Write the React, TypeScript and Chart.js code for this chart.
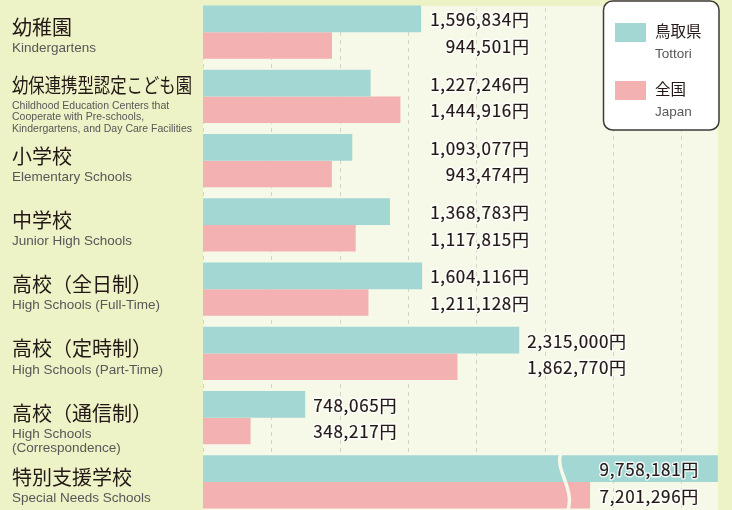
import React, { useEffect, useRef } from "react";
import { Chart, registerables } from "chart.js";

Chart.register(...registerables);

// ---------- data ----------
const categoriesJa = [
  "幼稚園",
  "幼保連携型認定こども園",
  "小学校",
  "中学校",
  "高校（全日制）",
  "高校（定時制）",
  "高校（通信制）",
  "特別支援学校",
];
const categoriesEn = [
  ["Kindergartens"],
  [
    "Childhood Education Centers that",
    "Cooperate with Pre-schools,",
    "Kindergartens, and Day Care Facilities",
  ],
  ["Elementary Schools"],
  ["Junior High Schools"],
  ["High Schools (Full-Time)"],
  ["High Schools (Part-Time)"],
  ["High Schools", "(Correspondence)"],
  ["Special Needs Schools"],
];
const tottoriValues = [1596834, 1227246, 1093077, 1368783, 1604116, 2315000, 748065, 9758181];
const japanValues = [944501, 1444916, 943474, 1117815, 1211128, 1862770, 348217, 7201296];
const seriesJa = ["鳥取県", "全国"];
const seriesEn = ["Tottori", "Japan"];
const unitSuffix = "円";

// axis: 0 .. axisMax with grid every gridStep, broken between breakStart and breakEnd
const gridStep = 500000;
const axisMax = 3770000;
const breakStart = 2650000;
const breakEnd = 6700000;
const breakScale = 0.366;
const labelColumnValue = 1604116;

// ---------- styles ----------
const PAGE_BG = "#edf2c7";
const PLOT_BG = "#f6f8e8";
const TEAL = "#a3d7d4";
const PINK = "#f4b1b2";
const TEXT_DARK = "#231815";
const TEXT_GRAY = "#595757";
const GRID = "#d3d4ca";
const W = 732;
const H = 514;
const PLOT_TOP = 6;

const toDisplay = (v: number) =>
  v <= breakStart ? v : breakStart + (v - breakEnd) * breakScale;

const fmt = (v: number) => v.toLocaleString("en-US") + unitSuffix;

const drawPlugin = {
  id: "customDraw",
  beforeDraw(chart: any) {
    const { ctx, chartArea: a } = chart;
    ctx.save();
    ctx.fillStyle = PAGE_BG;
    ctx.fillRect(0, 0, W, H);
    ctx.fillStyle = PLOT_BG;
    ctx.fillRect(a.left, PLOT_TOP, a.right - a.left, a.bottom - PLOT_TOP);
    ctx.restore();
  },
  beforeDatasetsDraw(chart: any) {
    const { ctx, chartArea: a } = chart;
    const xs = chart.scales.x;
    ctx.save();
    ctx.strokeStyle = GRID;
    ctx.lineWidth = 1;
    ctx.setLineDash([4, 4]);
    for (let v = 0; v < axisMax; v += gridStep) {
      const x = Math.round(xs.getPixelForValue(v)) + 0.5;
      ctx.beginPath();
      ctx.moveTo(x, PLOT_TOP + 2);
      ctx.lineTo(x, a.bottom);
      ctx.stroke();
    }
    ctx.restore();
  },
  afterDatasetsDraw(chart: any) {
    const { ctx, chartArea: a } = chart;
    const xs = chart.scales.x;
    const ys = chart.scales.y;
    const m0 = chart.getDatasetMeta(0).data;
    const m1 = chart.getDatasetMeta(1).data;
    const n = categoriesJa.length;

    // axis break wave on bars that exceed the break
    for (let i = 0; i < n; i++) {
      if (Math.max(tottoriValues[i], japanValues[i]) <= breakStart) continue;
      const x = xs.getPixelForValue(breakStart);
      const top = m0[i].y - m0[i].height / 2 - 3;
      const bot = m1[i].y + m1[i].height / 2 + 4;
      const h = bot - top;
      ctx.save();
      ctx.strokeStyle = PLOT_BG;
      ctx.lineWidth = 3.5;
      ctx.beginPath();
      ctx.moveTo(x - 3.5, top);
      ctx.bezierCurveTo(x - 12, top + h * 0.27, x + 12, top + h * 0.63, x + 2, bot);
      ctx.stroke();
      ctx.restore();
    }

    // value labels
    ctx.save();
    ctx.font = '17px "Noto Sans CJK JP"';
    (ctx as any).letterSpacing = "0.7px";
    ctx.textBaseline = "middle";
    ctx.textAlign = "right";
    ctx.lineJoin = "round";
    for (let i = 0; i < n; i++) {
      const t0 = fmt(tottoriValues[i]);
      const t1 = fmt(japanValues[i]);
      const gmax = Math.max(tottoriValues[i], japanValues[i]);
      let right: number;
      if (gmax > breakStart) {
        right = a.right - 19;
      } else {
        const anchorVal = gmax >= 1000000 ? Math.max(gmax, labelColumnValue) : gmax;
        const wmax = Math.max(ctx.measureText(t0).width, ctx.measureText(t1).width);
        right = xs.getPixelForValue(anchorVal) + 8 + wmax;
      }
      [
        [t0, m0[i].y + 1],
        [t1, m1[i].y + 1],
      ].forEach(([t, y]: any) => {
        ctx.strokeStyle = "rgba(255,255,255,0.85)";
        ctx.lineWidth = 3;
        ctx.strokeText(t, right, y);
        ctx.fillStyle = TEXT_DARK;
        ctx.fillText(t, right, y);
        ctx.strokeStyle = TEXT_DARK;
        ctx.lineWidth = 0.2;
        ctx.strokeText(t, right, y);
      });
    }
    ctx.restore();

    // category labels
    ctx.save();
    ctx.textAlign = "left";
    ctx.textBaseline = "middle";
    for (let i = 0; i < n; i++) {
      const c = ys.getPixelForValue(i);
      const en = categoriesEn[i];
      const compact = en.length >= 3;
      ctx.fillStyle = TEXT_DARK;
      ctx.font = '20px "Noto Sans CJK JP"';
      const ty = compact ? c - 11 : c - 4.5;
      ctx.fillText(categoriesJa[i], 12, ty, 180);
      ctx.fillStyle = TEXT_GRAY;
      if (compact) {
        ctx.font = '11px "Liberation Sans", Arial, sans-serif';
        const widest = Math.max(...en.map((s) => ctx.measureText(s).width));
        const sx = Math.min(1, 180 / widest);
        en.forEach((s, k) => {
          ctx.save();
          ctx.translate(12, c + 9.5 + k * 11.5);
          ctx.scale(sx, 1);
          ctx.fillText(s, 0, 0);
          ctx.restore();
        });
      } else {
        ctx.font = '13.5px "Liberation Sans", Arial, sans-serif';
        en.forEach((s, k) => {
          ctx.fillText(s, 12, c + 16.5 + k * 14);
        });
      }
    }
    ctx.restore();

    // legend
    ctx.save();
    const lx = 603.5;
    const ly = 1;
    const lw = 115.5;
    const lh = 129;
    ctx.beginPath();
    ctx.roundRect(lx, ly, lw, lh, 9);
    ctx.fillStyle = "#ffffff";
    ctx.fill();
    ctx.strokeStyle = "#3e3a39";
    ctx.lineWidth = 1.5;
    ctx.stroke();
    const colors = [TEAL, PINK];
    seriesJa.forEach((s, k) => {
      const sy = 23 + k * 58;
      ctx.fillStyle = colors[k];
      ctx.fillRect(615, sy, 31, 19);
      ctx.textAlign = "left";
      ctx.textBaseline = "middle";
      ctx.fillStyle = TEXT_DARK;
      ctx.font = '15.5px "Noto Sans CJK JP"';
      ctx.fillText(s, 655, sy + 8.5);
      ctx.fillStyle = TEXT_GRAY;
      ctx.font = '13.5px "Liberation Sans", Arial, sans-serif';
      ctx.fillText(seriesEn[k], 655, sy + 31);
    });
    ctx.restore();
  },
};

export default function App() {
  const ref = useRef<HTMLCanvasElement | null>(null);
  useEffect(() => {
    if (!ref.current) return;
    const chart = new Chart(ref.current, {
      type: "bar",
      data: {
        labels: categoriesJa,
        datasets: [
          {
            label: seriesJa[0],
            data: tottoriValues.map(toDisplay),
            backgroundColor: TEAL,
            borderWidth: 0,
          },
          {
            label: seriesJa[1],
            data: japanValues.map(toDisplay),
            backgroundColor: PINK,
            borderWidth: 0,
          },
        ],
      },
      options: {
        indexAxis: "y",
        responsive: false,
        animation: false,
        devicePixelRatio: 1,
        layout: { padding: { left: 203, right: 14, top: 0, bottom: 0 } },
        datasets: { bar: { barPercentage: 1, categoryPercentage: 0.825 } },
        scales: {
          x: {
            display: false,
            min: 0,
            max: axisMax,
            ticks: { stepSize: gridStep },
          },
          y: { display: false },
        },
        plugins: {
          legend: { display: false },
          tooltip: { enabled: false },
        },
      },
      plugins: [drawPlugin],
    });
    return () => chart.destroy();
  }, []);
  return (
    <div
      style={{
        position: "absolute",
        left: 0,
        top: 0,
        width: W,
        height: 510,
        overflow: "hidden",
      }}
    >
      <canvas ref={ref} width={W} height={H} style={{ display: "block" }} />
    </div>
  );
}
